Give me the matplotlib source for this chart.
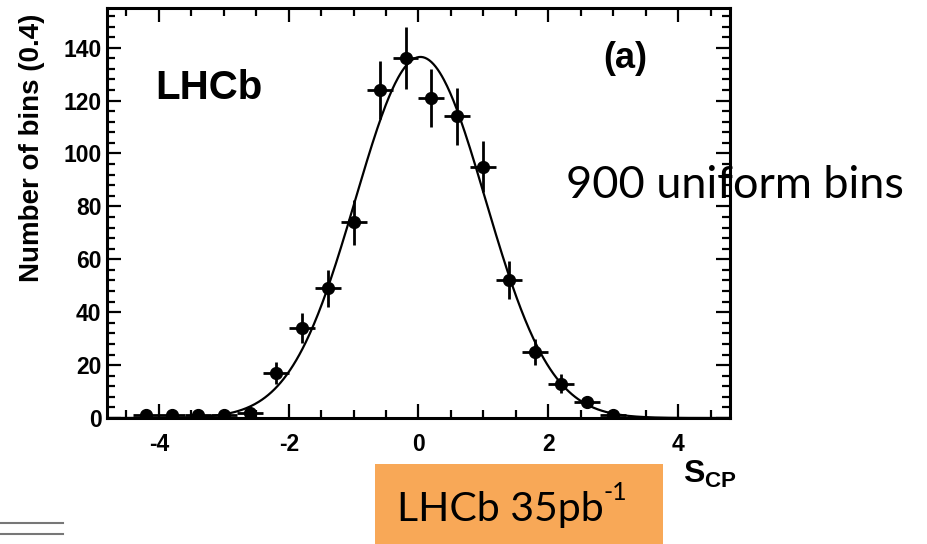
import numpy as np
import matplotlib
matplotlib.use("Agg")
import matplotlib.pyplot as plt
from matplotlib.patches import Rectangle
from matplotlib.lines import Line2D
from matplotlib.ticker import MultipleLocator

# ---- data ----
bin_centers = [-4.2, -3.8, -3.4, -3.0, -2.6, -2.2, -1.8, -1.4, -1.0, -0.6,
               -0.2, 0.2, 0.6, 1.0, 1.4, 1.8, 2.2, 2.6, 3.0]
counts = [1, 1, 1, 1, 2, 17, 34, 49, 74, 124,
          136, 121, 114, 95, 52, 25, 13, 6, 1]
count_errors = [1.0, 1.0, 1.0, 1.0, 1.4, 4.1, 5.8, 7.0, 8.6, 11.1,
                11.7, 11.0, 10.7, 9.7, 7.2, 5.0, 3.6, 2.4, 1.0]
half_bin = [0.2] * len(bin_centers)

# Gaussian fit parameters
fit_amplitude = 136.5
fit_mean = 0.03
fit_sigma = 1.0

x_ticks = [-4, -2, 0, 2, 4]
y_ticks = [0, 20, 40, 60, 80, 100, 120, 140]

plt.rcParams['font.family'] = ['Liberation Sans', 'DejaVu Sans']
plt.rcParams['axes.unicode_minus'] = False
plt.rcParams['mathtext.fontset'] = 'custom'
plt.rcParams['mathtext.rm'] = 'Liberation Sans:bold'
plt.rcParams['mathtext.bf'] = 'Liberation Sans:bold'

fig = plt.figure(figsize=(9.28, 5.44), dpi=100)
ax = fig.add_axes([107/928, 1-418/544, (730-107)/928, (418-8)/544])

xs = np.linspace(-4.8, 4.8, 600)
ys = fit_amplitude * np.exp(-(xs - fit_mean)**2 / (2 * fit_sigma**2))
ax.plot(xs, ys, color='black', lw=1.6, zorder=2)

ax.errorbar(bin_centers, counts, yerr=count_errors, xerr=half_bin,
            fmt='o', color='black', ms=8.5, elinewidth=2.0, capsize=0, zorder=3)

ax.set_xlim(-4.8, 4.8)
ax.set_ylim(0, 155)
ax.set_xticks(x_ticks)
ax.set_yticks(y_ticks)
ax.xaxis.set_minor_locator(MultipleLocator(0.5))
ax.yaxis.set_minor_locator(MultipleLocator(4))
ax.tick_params(which='both', direction='in', top=True, right=True, width=1.6)
ax.tick_params(which='major', length=10)
ax.tick_params(which='minor', length=5.5)
ax.tick_params(axis='x', which='major', pad=11, labelsize=16.5)
ax.tick_params(axis='y', which='major', pad=4, labelsize=16.5)
for lab in ax.get_xticklabels() + ax.get_yticklabels():
    lab.set_fontweight('bold')
for sp in ax.spines.values():
    sp.set_linewidth(2.2)

ax.text(0.077, 0.805, 'LHCb', transform=ax.transAxes, fontsize=29,
        fontweight='bold', ha='left', va='center')
ax.text(0.796, 0.876, '(a)', transform=ax.transAxes, fontsize=26,
        fontweight='bold', ha='left', va='center')

fig.text(0.035, 1-148/544, 'Number of bins (0.4)', rotation=90,
         fontsize=20, fontweight='bold', ha='center', va='center')
fig.text(683/928, 1-474/544, r'$\mathbf{S_{CP}}$', fontsize=23,
         ha='left', va='center')

fig.text(566/928, 1-186/544, '900 uniform bins', fontsize=32.5,
         family='Lato', ha='left', va='center', zorder=5)

fig.patches.append(Rectangle((375/928, 0), 288/928, 80/544,
                             transform=fig.transFigure, facecolor='#F8A857',
                             edgecolor='none', zorder=1))
main = fig.text(397/928, 1-509/544, 'LHCb 35pb', fontsize=29.5,
                family='Lato', ha='left', va='center', zorder=5)
fig.canvas.draw()
fig.add_artist(plt.Annotation('-1', xy=(1, 1), xycoords=main,
                              xytext=(-0.5, 6.5), textcoords='offset points',
                              fontsize=18, family='Lato', ha='left', va='top',
                              zorder=5))

for yy in (523, 534):
    fig.add_artist(Line2D([0, 63/928], [1-yy/544, 1-yy/544],
                          transform=fig.transFigure, color='#777777', lw=1.5))

fig.savefig('out.png', dpi=100)
